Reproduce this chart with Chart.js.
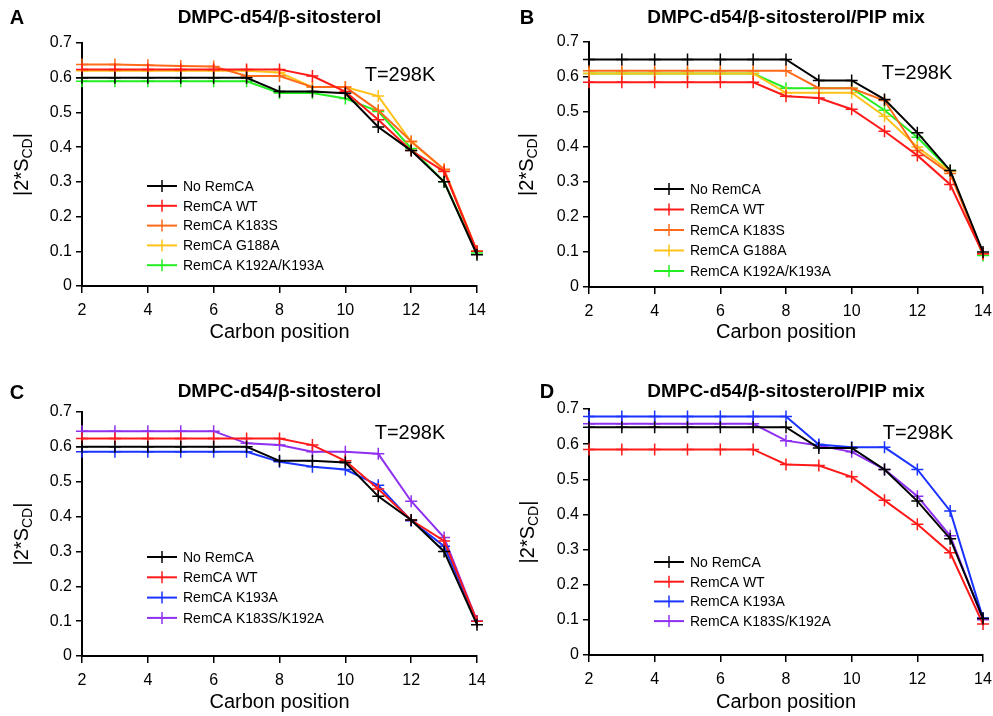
<!DOCTYPE html>
<html>
<head>
<meta charset="utf-8">
<script src="https://cdn.jsdelivr.net/npm/chart.js@4/dist/chart.umd.min.js"></script>
<style>
  html, body { margin: 0; padding: 0; background: #fff; }
  .panel { position: absolute; }
</style>
</head>
<body>
<div class="panel" style="left:0;top:0;width:496px;height:358px"><canvas id="chart-a"></canvas></div>
<div class="panel" style="left:496px;top:0;width:497px;height:358px"><canvas id="chart-b"></canvas></div>
<div class="panel" style="left:0;top:358px;width:496px;height:358px"><canvas id="chart-c"></canvas></div>
<div class="panel" style="left:496px;top:358px;width:497px;height:358px"><canvas id="chart-d"></canvas></div>
<script>
// Posiciones de carbono (eje x)
const carbonPos = [2, 3, 4, 5, 6, 7, 8, 9, 10, 11, 12, 13, 14];
const xTicks = [2, 4, 6, 8, 10, 12, 14];
const yTicks = [0, 0.1, 0.2, 0.3, 0.4, 0.5, 0.6, 0.7];

// Panel A: DMPC-d54/β-sitosterol
const noRemcaA = [0.60, 0.60, 0.60, 0.60, 0.60, 0.60, 0.56, 0.56, 0.555, 0.458, 0.39, 0.30, 0.09];
const wtA      = [0.624, 0.624, 0.624, 0.624, 0.624, 0.624, 0.624, 0.605, 0.56, 0.479, 0.39, 0.33, 0.10];
const k183sA   = [0.638, 0.638, 0.636, 0.634, 0.632, 0.605, 0.605, 0.573, 0.573, 0.506, 0.417, 0.336, 0.10];
const g188aA   = [0.62, 0.62, 0.62, 0.62, 0.62, 0.62, 0.615, 0.573, 0.573, 0.547, 0.415, 0.334, 0.10];
const k192aA   = [0.59, 0.59, 0.59, 0.59, 0.59, 0.59, 0.556, 0.556, 0.54, 0.503, 0.396, 0.30, 0.095];

// Panel B: DMPC-d54/β-sitosterol/PIP mix
const noRemcaB = [0.65, 0.65, 0.65, 0.65, 0.65, 0.65, 0.65, 0.59, 0.59, 0.536, 0.441, 0.333, 0.10];
const wtB      = [0.585, 0.585, 0.585, 0.585, 0.585, 0.585, 0.545, 0.54, 0.508, 0.445, 0.376, 0.293, 0.095];
const k183sB   = [0.618, 0.618, 0.618, 0.618, 0.618, 0.618, 0.618, 0.568, 0.568, 0.533, 0.39, 0.324, 0.095];
const g188aB   = [0.61, 0.61, 0.61, 0.61, 0.61, 0.61, 0.555, 0.555, 0.555, 0.488, 0.40, 0.33, 0.095];
const k192aB   = [0.61, 0.61, 0.61, 0.61, 0.61, 0.61, 0.568, 0.568, 0.568, 0.505, 0.428, 0.333, 0.09];

// Panel C: DMPC-d54/β-sitosterol
const noRemcaC = [0.60, 0.60, 0.60, 0.60, 0.60, 0.60, 0.56, 0.56, 0.555, 0.458, 0.39, 0.30, 0.09];
const wtC      = [0.624, 0.624, 0.624, 0.624, 0.624, 0.624, 0.624, 0.605, 0.56, 0.479, 0.39, 0.33, 0.10];
const k193aC   = [0.586, 0.586, 0.586, 0.586, 0.586, 0.586, 0.557, 0.543, 0.535, 0.49, 0.388, 0.315, 0.10];
const k183sK192aC = [0.645, 0.645, 0.645, 0.645, 0.645, 0.61, 0.605, 0.586, 0.586, 0.58, 0.444, 0.34, 0.10];

// Panel D: DMPC-d54/β-sitosterol/PIP mix
const noRemcaD = [0.648, 0.648, 0.648, 0.648, 0.648, 0.648, 0.648, 0.589, 0.589, 0.528, 0.438, 0.331, 0.104];
const wtD      = [0.585, 0.585, 0.585, 0.585, 0.585, 0.585, 0.542, 0.539, 0.507, 0.44, 0.372, 0.291, 0.088];
const k193aD   = [0.679, 0.679, 0.679, 0.679, 0.679, 0.679, 0.679, 0.599, 0.591, 0.591, 0.528, 0.41, 0.105];
const k183sK192aD = [0.658, 0.658, 0.658, 0.658, 0.658, 0.658, 0.61, 0.596, 0.578, 0.528, 0.452, 0.339, 0.10];

// Colores de las series
const COLORS = {
    negro: '#000000',
    rojo: '#ff1a1a',
    naranja: '#ff6a1a',
    amarillo: '#ffc21a',
    verde: '#22ee22',
    azul: '#1a33ff',
    morado: '#8f30f0'
};

const FONT = 'Arial, "Liberation Sans", sans-serif';

// Convertir arreglo de valores a puntos {x,y}
function toPoints(values) {
    return values.map((v, i) => ({ x: carbonPos[i], y: v }));
}

function makeDataset(label, values, color) {
    return {
        label: label,
        data: toPoints(values),
        borderColor: color,
        backgroundColor: color,
        borderWidth: 2,
        pointStyle: 'cross',
        pointRadius: 6,
        pointBorderWidth: 1.5,
        tension: 0,
        clip: false
    };
}

// Plugin para textos: letra, titulo, T=298K, ejes y leyenda
const textPlugin = {
    id: 'panelTexts',
    afterDraw(chart, args, opts) {
        const ctx = chart.ctx;
        const area = chart.chartArea;
        ctx.save();
        ctx.fillStyle = '#000';
        ctx.textBaseline = 'middle';

        // Letra del panel
        ctx.font = 'bold 20px ' + FONT;
        ctx.textAlign = 'center';
        ctx.fillText(opts.letter, opts.letterX, opts.letterY);

        // Titulo
        ctx.font = 'bold 19px ' + FONT;
        ctx.fillText(opts.title, (area.left + area.right) / 2, opts.titleY);

        // Temperatura
        ctx.font = '20px ' + FONT;
        ctx.fillText('T=298K', opts.tempX, opts.tempY);

        // Titulo eje x
        ctx.font = '20px ' + FONT;
        ctx.fillText('Carbon position', (area.left + area.right) / 2, opts.xTitleY);

        // Titulo eje y con subindice
        ctx.translate(opts.yTitleX, (area.top + area.bottom) / 2);
        ctx.rotate(-Math.PI / 2);
        ctx.font = '20px ' + FONT;
        const p1 = '|2*S';
        const sub = 'CD';
        const p2 = '|';
        const w1 = ctx.measureText(p1).width;
        ctx.font = '14px ' + FONT;
        const ws = ctx.measureText(sub).width;
        ctx.font = '20px ' + FONT;
        const w2 = ctx.measureText(p2).width;
        let x0 = -(w1 + ws + w2) / 2;
        ctx.textAlign = 'left';
        ctx.fillText(p1, x0, 0);
        ctx.font = '14px ' + FONT;
        ctx.fillText(sub, x0 + w1, 6);
        ctx.font = '20px ' + FONT;
        ctx.fillText(p2, x0 + w1 + ws, 0);
        ctx.restore();

        // Leyenda
        ctx.save();
        ctx.font = '14px ' + FONT;
        ctx.textBaseline = 'middle';
        ctx.textAlign = 'left';
        chart.data.datasets.forEach((ds, i) => {
            const y = opts.legendY + i * opts.legendStep;
            const x = opts.legendX;
            ctx.strokeStyle = ds.borderColor;
            ctx.lineWidth = 2;
            ctx.beginPath();
            ctx.moveTo(x, y);
            ctx.lineTo(x + 30, y);
            ctx.stroke();
            ctx.lineWidth = 1.5;
            ctx.beginPath();
            ctx.moveTo(x + 15, y - 6);
            ctx.lineTo(x + 15, y + 6);
            ctx.stroke();
            ctx.fillStyle = '#000';
            ctx.fillText(ds.label, x + 36, y + 1);
        });
        ctx.restore();
    }
};

function buildChart(canvasId, datasets, layout, texts) {
    const ctx = document.getElementById(canvasId);
    return new Chart(ctx, {
        type: 'line',
        data: { datasets: datasets },
        options: {
            responsive: true,
            maintainAspectRatio: false,
            animation: false,
            events: [],
            layout: { padding: layout },
            plugins: {
                legend: { display: false },
                tooltip: { enabled: false },
                title: { display: false },
                panelTexts: texts
            },
            scales: {
                x: {
                    type: 'linear',
                    min: 2,
                    max: 14,
                    afterFit(scale) { scale.height = 30; scale.paddingRight = 0; scale.paddingLeft = 0; },
                    afterBuildTicks(scale) { scale.ticks = xTicks.map(v => ({ value: v })); },
                    ticks: { color: '#000', font: { size: 16, family: FONT }, padding: 8, maxRotation: 0 },
                    grid: { drawOnChartArea: false, drawTicks: true, tickLength: 7, color: '#000', lineWidth: 1.5 },
                    border: { color: '#000', width: 2 }
                },
                y: {
                    min: 0,
                    max: 0.7,
                    afterFit(scale) { scale.width = 40; scale.paddingTop = 0; scale.paddingBottom = 0; },
                    afterBuildTicks(scale) { scale.ticks = yTicks.map(v => ({ value: v })); },
                    ticks: {
                        color: '#000',
                        font: { size: 16, family: FONT },
                        padding: 4,
                        callback: v => String(+v.toFixed(1))
                    },
                    grid: { drawOnChartArea: false, drawTicks: true, tickLength: 6, color: '#000', lineWidth: 1.5 },
                    border: { color: '#000', width: 2 }
                }
            }
        },
        plugins: [textPlugin]
    });
}

buildChart('chart-a', [
    makeDataset('No RemCA', noRemcaA, COLORS.negro),
    makeDataset('RemCA WT', wtA, COLORS.rojo),
    makeDataset('RemCA K183S', k183sA, COLORS.naranja),
    makeDataset('RemCA G188A', g188aA, COLORS.amarillo),
    makeDataset('RemCA K192A/K193A', k192aA, COLORS.verde)
], { left: 42, right: 19, top: 43, bottom: 42 }, {
    letter: 'A', letterX: 17, letterY: 18, title: 'DMPC-d54/β-sitosterol', titleY: 18,
    tempX: 400, tempY: 75, xTitleY: 332, yTitleX: 22,
    legendX: 147, legendY: 186, legendStep: 19.8
});

buildChart('chart-b', [
    makeDataset('No RemCA', noRemcaB, COLORS.negro),
    makeDataset('RemCA WT', wtB, COLORS.rojo),
    makeDataset('RemCA K183S', k183sB, COLORS.naranja),
    makeDataset('RemCA G188A', g188aB, COLORS.amarillo),
    makeDataset('RemCA K192A/K193A', k192aB, COLORS.verde)
], { left: 53, right: 10, top: 42, bottom: 41 }, {
    letter: 'B', letterX: 31, letterY: 18, title: 'DMPC-d54/β-sitosterol/PIP mix', titleY: 18,
    tempX: 421, tempY: 73, xTitleY: 332, yTitleX: 31,
    legendX: 158, legendY: 189, legendStep: 20.5
});

buildChart('chart-c', [
    makeDataset('No RemCA', noRemcaC, COLORS.negro),
    makeDataset('RemCA WT', wtC, COLORS.rojo),
    makeDataset('RemCA K193A', k193aC, COLORS.azul),
    makeDataset('RemCA K183S/K192A', k183sK192aC, COLORS.morado)
], { left: 42, right: 19, top: 54, bottom: 30 }, {
    letter: 'C', letterX: 17, letterY: 35, title: 'DMPC-d54/β-sitosterol', titleY: 34,
    tempX: 410, tempY: 75, xTitleY: 344, yTitleX: 22,
    legendX: 147, legendY: 199, legendStep: 20.3
});

buildChart('chart-d', [
    makeDataset('No RemCA', noRemcaD, COLORS.negro),
    makeDataset('RemCA WT', wtD, COLORS.rojo),
    makeDataset('RemCA K193A', k193aD, COLORS.azul),
    makeDataset('RemCA K183S/K192A', k183sK192aD, COLORS.morado)
], { left: 53, right: 10, top: 51, bottom: 31 }, {
    letter: 'D', letterX: 51, letterY: 34, title: 'DMPC-d54/β-sitosterol/PIP mix', titleY: 34,
    tempX: 422, tempY: 75, xTitleY: 344, yTitleX: 32,
    legendX: 158, legendY: 204, legendStep: 19.7
});
</script>
</body>
</html>
